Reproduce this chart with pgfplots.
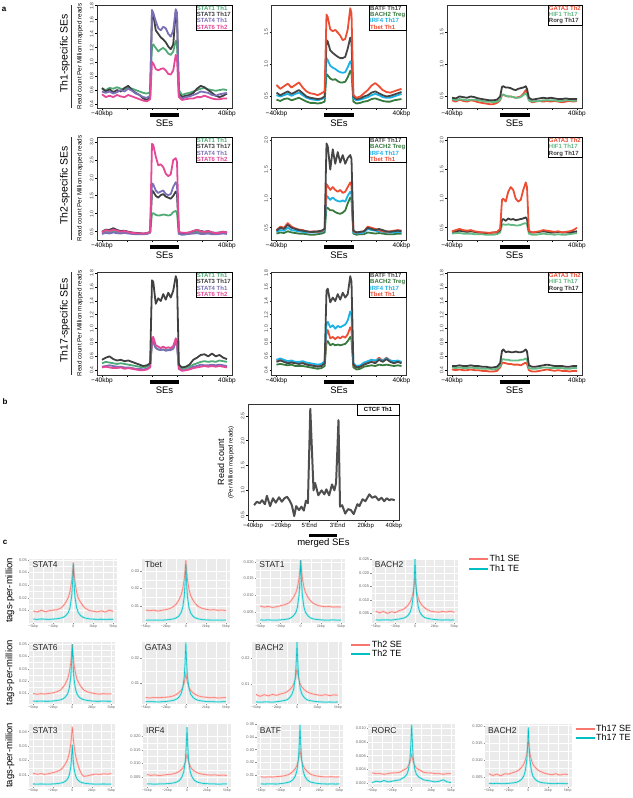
\documentclass[border=0pt]{standalone}
\usepackage{fontspec}
\setmainfont{Liberation Sans}
\usepackage{pgfplots}
\usepackage{pgfplotstable}
\pgfplotsset{compat=1.18}

\definecolor{cSa}{RGB}{80,170,120}
\definecolor{cSb}{RGB}{64,64,64}
\definecolor{cSc}{RGB}{122,112,182}
\definecolor{cSd}{RGB}{228,72,150}
\definecolor{cBATF}{RGB}{70,70,70}
\definecolor{cBACH}{RGB}{56,122,62}
\definecolor{cIRF}{RGB}{28,178,230}
\definecolor{cTBET}{RGB}{236,78,52}
\definecolor{cHIF}{RGB}{100,186,132}
\definecolor{cROR}{RGB}{60,60,60}
\definecolor{cSE}{HTML}{F8766D}
\definecolor{cTE}{HTML}{00BFC4}
\definecolor{cBg}{HTML}{EBEBEB}

% ---- panel a tables (x: -40kbp=0, SE from 40 to 60, 40kbp=100)
\pgfplotstableread{
x s1 s3 s4 s6
0 0.62 0.63 0.58 0.54
3 0.60 0.58 0.56 0.50
6 0.63 0.61 0.58 0.52
9 0.62 0.57 0.55 0.50
12 0.64 0.60 0.57 0.53
15 0.62 0.58 0.60 0.51
18 0.61 0.63 0.58 0.50
21 0.64 0.66 0.62 0.53
24 0.62 0.60 0.59 0.51
27 0.60 0.56 0.55 0.49
30 0.58 0.53 0.53 0.47
33 0.56 0.48 0.50 0.45
36 0.55 0.46 0.49 0.44
38.5 0.57 0.50 0.52 0.47
40 1.22 1.70 1.74 1.00
41 1.25 1.68 1.70 0.98
43 1.20 1.45 1.58 0.90
45 1.15 1.40 1.48 0.88
47 1.18 1.35 1.45 0.90
49 1.20 1.32 1.50 0.91
51 1.17 1.28 1.48 0.88
53 1.12 1.22 1.40 0.83
55 1.10 1.18 1.36 0.82
57 1.15 1.25 1.45 0.88
59 1.30 1.72 1.75 1.10
60 1.25 1.65 1.70 1.05
61.5 0.60 0.55 0.52 0.50
64 0.53 0.50 0.48 0.46
67 0.55 0.52 0.50 0.47
70 0.56 0.53 0.51 0.48
73 0.58 0.56 0.53 0.48
76 0.60 0.62 0.55 0.50
79 0.62 0.66 0.58 0.50
82 0.63 0.64 0.57 0.52
85 0.61 0.60 0.56 0.50
88 0.60 0.56 0.53 0.48
91 0.59 0.52 0.52 0.47
94 0.60 0.50 0.54 0.47
97 0.61 0.52 0.55 0.48
100 0.60 0.55 0.56 0.48
}\tAa

\pgfplotstableread{
x batf bach irf tbet
0 0.56 0.45 0.52 0.68
3 0.52 0.43 0.50 0.62
6 0.55 0.46 0.52 0.66
9 0.58 0.47 0.54 0.70
12 0.54 0.44 0.51 0.64
15 0.57 0.46 0.54 0.68
18 0.60 0.48 0.56 0.72
21 0.55 0.45 0.52 0.64
24 0.50 0.42 0.48 0.58
27 0.48 0.40 0.46 0.55
30 0.47 0.40 0.45 0.54
33 0.46 0.39 0.44 0.52
36 0.47 0.40 0.46 0.55
38.5 0.50 0.42 0.48 0.58
40 1.38 0.85 1.10 1.78
41 1.36 0.83 1.07 1.74
43 1.22 0.78 0.98 1.55
45 1.18 0.76 0.95 1.52
47 1.15 0.77 0.93 1.54
49 1.12 0.74 0.90 1.50
51 1.10 0.72 0.88 1.45
53 1.10 0.72 0.87 1.38
55 1.12 0.73 0.88 1.40
57 1.25 0.80 0.96 1.55
59 1.42 0.90 1.05 1.88
60 1.35 0.86 1.00 1.80
61.5 0.50 0.42 0.47 0.52
64 0.46 0.39 0.44 0.48
67 0.47 0.40 0.45 0.50
70 0.50 0.42 0.47 0.55
73 0.52 0.43 0.49 0.60
76 0.56 0.46 0.52 0.67
79 0.58 0.47 0.54 0.71
82 0.55 0.45 0.52 0.66
85 0.52 0.43 0.49 0.60
88 0.50 0.42 0.48 0.57
91 0.51 0.42 0.48 0.56
94 0.53 0.44 0.50 0.58
97 0.55 0.45 0.52 0.60
100 0.57 0.46 0.54 0.62
}\tAb

\pgfplotstableread{
x gata hif ror
0 0.44 0.46 0.48
3 0.42 0.44 0.47
6 0.45 0.46 0.50
9 0.43 0.45 0.49
12 0.42 0.44 0.48
15 0.44 0.45 0.50
18 0.43 0.45 0.49
21 0.41 0.44 0.47
24 0.40 0.43 0.46
27 0.39 0.42 0.45
30 0.38 0.42 0.44
33 0.38 0.41 0.44
36 0.40 0.42 0.45
38.5 0.44 0.45 0.50
40 0.52 0.53 0.65
41 0.53 0.53 0.66
43 0.51 0.51 0.64
45 0.50 0.50 0.64
47 0.50 0.50 0.63
49 0.49 0.49 0.61
51 0.48 0.48 0.60
53 0.49 0.48 0.62
55 0.50 0.49 0.63
57 0.54 0.52 0.64
59 0.60 0.55 0.66
60 0.56 0.52 0.62
61.5 0.44 0.44 0.48
64 0.41 0.42 0.45
67 0.42 0.43 0.46
70 0.43 0.43 0.47
73 0.42 0.44 0.48
76 0.43 0.44 0.47
79 0.42 0.44 0.48
82 0.43 0.44 0.47
85 0.42 0.43 0.46
88 0.41 0.43 0.46
91 0.42 0.44 0.47
94 0.43 0.44 0.46
97 0.42 0.43 0.46
100 0.43 0.44 0.46
}\tAc

\pgfplotstableread{
x s1 s3 s4 s6
0 0.45 0.50 0.44 0.48
3 0.50 0.56 0.47 0.55
6 0.48 0.55 0.45 0.52
9 0.52 0.60 0.48 0.56
12 0.50 0.55 0.46 0.53
15 0.48 0.52 0.45 0.50
18 0.50 0.53 0.47 0.52
21 0.48 0.50 0.45 0.49
24 0.46 0.48 0.44 0.47
27 0.45 0.47 0.43 0.46
30 0.45 0.46 0.43 0.46
33 0.44 0.45 0.43 0.45
36 0.45 0.46 0.44 0.46
38.5 0.48 0.50 0.47 0.50
40 1.00 1.65 1.85 2.95
41 1.02 1.62 1.82 2.92
43 0.97 1.50 1.65 2.60
45 0.95 1.45 1.58 2.35
47 0.96 1.52 1.62 2.38
49 0.98 1.55 1.65 2.30
51 0.97 1.48 1.55 2.12
53 0.95 1.45 1.52 2.05
55 0.97 1.42 1.55 2.10
57 1.05 1.50 1.75 2.50
59 1.08 1.62 1.88 2.55
60 1.02 1.55 1.80 2.45
61.5 0.45 0.48 0.44 0.50
64 0.42 0.45 0.42 0.47
67 0.43 0.46 0.43 0.47
70 0.45 0.48 0.44 0.48
73 0.48 0.52 0.45 0.52
76 0.50 0.55 0.46 0.55
79 0.47 0.52 0.44 0.51
82 0.46 0.50 0.44 0.49
85 0.48 0.52 0.45 0.52
88 0.46 0.48 0.43 0.48
91 0.45 0.47 0.43 0.46
94 0.46 0.48 0.44 0.47
97 0.47 0.50 0.45 0.50
100 0.46 0.48 0.44 0.48
}\tBa

\pgfplotstableread{
x batf bach irf tbet
0 0.45 0.40 0.43 0.46
3 0.50 0.42 0.46 0.52
6 0.48 0.41 0.45 0.50
9 0.55 0.44 0.50 0.58
12 0.50 0.42 0.46 0.52
15 0.48 0.41 0.45 0.49
18 0.46 0.40 0.44 0.47
21 0.45 0.40 0.43 0.46
24 0.44 0.39 0.42 0.44
27 0.43 0.38 0.42 0.43
30 0.43 0.38 0.42 0.44
33 0.44 0.39 0.42 0.43
36 0.45 0.40 0.43 0.44
38.5 0.48 0.42 0.46 0.48
40 1.95 0.85 1.05 1.25
41 1.90 0.84 1.03 1.22
43 1.50 0.80 0.98 1.15
45 1.85 0.80 1.02 1.20
47 1.60 0.77 0.98 1.15
49 1.80 0.75 0.96 1.12
51 1.62 0.74 0.95 1.15
53 1.75 0.76 0.97 1.10
55 1.60 0.80 0.95 1.12
57 1.70 0.92 1.05 1.20
59 1.75 1.02 1.12 1.28
60 1.68 0.98 1.08 1.22
61.5 0.45 0.40 0.42 0.44
64 0.42 0.38 0.40 0.42
67 0.43 0.39 0.41 0.43
70 0.44 0.39 0.42 0.44
73 0.50 0.42 0.48 0.52
76 0.48 0.41 0.46 0.50
79 0.46 0.40 0.45 0.48
82 0.48 0.41 0.44 0.46
85 0.46 0.40 0.43 0.44
88 0.44 0.39 0.42 0.43
91 0.43 0.39 0.42 0.44
94 0.44 0.39 0.42 0.45
97 0.45 0.40 0.43 0.46
100 0.44 0.40 0.42 0.45
}\tBb

\pgfplotstableread{
x gata hif ror
0 0.44 0.40 0.43
3 0.46 0.41 0.44
6 0.48 0.41 0.45
9 0.46 0.40 0.44
12 0.45 0.40 0.43
15 0.46 0.40 0.44
18 0.44 0.39 0.43
21 0.43 0.39 0.42
24 0.42 0.39 0.42
27 0.42 0.38 0.41
30 0.41 0.38 0.41
33 0.42 0.38 0.42
36 0.43 0.39 0.42
38.5 0.48 0.42 0.46
40 0.98 0.55 0.64
41 1.00 0.56 0.65
43 0.95 0.55 0.62
45 1.12 0.56 0.66
47 1.20 0.55 0.64
49 1.15 0.55 0.65
51 1.00 0.54 0.63
53 0.95 0.54 0.64
55 0.98 0.55 0.65
57 1.15 0.57 0.66
59 1.28 0.58 0.68
60 1.20 0.56 0.65
61.5 0.45 0.40 0.44
64 0.42 0.38 0.42
67 0.43 0.38 0.42
70 0.44 0.39 0.43
73 0.46 0.40 0.44
76 0.45 0.39 0.43
79 0.44 0.39 0.42
82 0.43 0.38 0.42
85 0.44 0.39 0.43
88 0.42 0.38 0.42
91 0.43 0.38 0.42
94 0.44 0.39 0.42
97 0.46 0.40 0.43
100 0.50 0.41 0.44
}\tBc

\pgfplotstableread{
x s1 s3 s4 s6
0 0.50 0.55 0.45 0.44
3 0.52 0.58 0.46 0.45
6 0.51 0.60 0.47 0.44
9 0.50 0.56 0.46 0.43
12 0.49 0.54 0.45 0.43
15 0.50 0.55 0.45 0.44
18 0.49 0.53 0.44 0.42
21 0.48 0.54 0.44 0.43
24 0.47 0.52 0.43 0.42
27 0.46 0.50 0.42 0.41
30 0.45 0.48 0.42 0.40
33 0.44 0.46 0.41 0.40
36 0.45 0.47 0.42 0.41
38.5 0.48 0.50 0.45 0.44
40 0.78 1.70 0.80 0.86
41 0.80 1.68 0.82 0.88
43 0.72 1.36 0.72 0.76
45 0.70 1.44 0.70 0.74
47 0.69 1.40 0.69 0.72
49 0.70 1.50 0.70 0.74
51 0.69 1.42 0.68 0.72
53 0.70 1.52 0.69 0.73
55 0.70 1.45 0.69 0.72
57 0.72 1.55 0.71 0.75
59 0.82 1.76 0.80 0.86
60 0.78 1.70 0.76 0.82
61.5 0.45 0.48 0.42 0.42
64 0.42 0.44 0.40 0.39
67 0.43 0.45 0.40 0.40
70 0.45 0.48 0.42 0.41
73 0.48 0.55 0.45 0.43
76 0.50 0.58 0.46 0.44
79 0.52 0.62 0.48 0.45
82 0.53 0.63 0.47 0.46
85 0.52 0.60 0.47 0.45
88 0.53 0.64 0.48 0.46
91 0.52 0.60 0.47 0.45
94 0.54 0.62 0.48 0.46
97 0.53 0.58 0.47 0.45
100 0.52 0.56 0.46 0.44
}\tCa

\pgfplotstableread{
x batf bach irf tbet
0 0.52 0.48 0.55 0.54
3 0.54 0.49 0.57 0.56
6 0.52 0.48 0.55 0.53
9 0.50 0.47 0.53 0.52
12 0.51 0.48 0.54 0.53
15 0.50 0.46 0.52 0.51
18 0.49 0.46 0.52 0.50
21 0.50 0.46 0.53 0.51
24 0.48 0.45 0.51 0.49
27 0.47 0.44 0.50 0.48
30 0.46 0.43 0.49 0.47
33 0.45 0.42 0.48 0.46
36 0.46 0.43 0.49 0.47
38.5 0.50 0.46 0.53 0.51
40 1.55 0.80 1.08 0.95
41 1.58 0.82 1.10 0.98
43 1.38 0.76 1.02 0.86
45 1.45 0.78 1.05 0.88
47 1.40 0.76 1.00 0.85
49 1.50 0.77 1.04 0.88
51 1.42 0.76 1.02 0.86
53 1.52 0.77 1.04 0.89
55 1.45 0.78 1.06 0.87
57 1.50 0.82 1.12 0.92
59 1.76 0.88 1.25 1.02
60 1.68 0.84 1.20 0.98
61.5 0.48 0.44 0.50 0.47
64 0.44 0.41 0.46 0.44
67 0.45 0.42 0.47 0.45
70 0.48 0.45 0.51 0.49
73 0.50 0.46 0.53 0.52
76 0.52 0.47 0.55 0.55
79 0.50 0.46 0.54 0.53
82 0.55 0.48 0.56 0.58
85 0.52 0.47 0.54 0.54
88 0.56 0.48 0.57 0.58
91 0.52 0.47 0.54 0.54
94 0.50 0.46 0.53 0.52
97 0.52 0.47 0.54 0.53
100 0.50 0.46 0.52 0.51
}\tCb

\pgfplotstableread{
x gata hif ror
0 0.41 0.44 0.46
3 0.40 0.43 0.46
6 0.41 0.44 0.47
9 0.40 0.43 0.46
12 0.40 0.43 0.46
15 0.41 0.44 0.47
18 0.40 0.43 0.46
21 0.40 0.43 0.46
24 0.39 0.42 0.45
27 0.39 0.42 0.45
30 0.38 0.42 0.44
33 0.38 0.41 0.44
36 0.39 0.42 0.45
38.5 0.44 0.46 0.50
40 0.50 0.55 0.68
41 0.51 0.56 0.70
43 0.50 0.55 0.66
45 0.49 0.55 0.67
47 0.49 0.54 0.66
49 0.48 0.54 0.66
51 0.48 0.54 0.67
53 0.48 0.54 0.66
55 0.47 0.55 0.66
57 0.49 0.55 0.67
59 0.51 0.57 0.70
60 0.49 0.55 0.67
61.5 0.40 0.43 0.47
64 0.38 0.42 0.45
67 0.38 0.42 0.45
70 0.39 0.43 0.46
73 0.40 0.44 0.47
76 0.41 0.44 0.48
79 0.40 0.43 0.47
82 0.39 0.43 0.46
85 0.40 0.43 0.46
88 0.39 0.43 0.46
91 0.39 0.42 0.45
94 0.38 0.42 0.45
97 0.39 0.43 0.46
100 0.39 0.43 0.46
}\tCc

% ---- panel c tables (kbp from centre)
\pgfplotstableread{
x a4s a4t tbs tbt a1s a1t b2s b2t
-5 0.0095 0.0032 0.0078 0.0021 0.0068 0.0027 0.0058 0.0026
-4.5 0.0088 0.0030 0.0074 0.0020 0.0065 0.0026 0.0052 0.0025
-4 0.0102 0.0033 0.0077 0.0021 0.0067 0.0027 0.0057 0.0026
-3.5 0.0090 0.0031 0.0072 0.0021 0.0064 0.0026 0.0050 0.0026
-3 0.0098 0.0030 0.0076 0.0020 0.0066 0.0026 0.0056 0.0025
-2.5 0.0103 0.0032 0.0080 0.0022 0.0069 0.0027 0.0053 0.0027
-2 0.0106 0.0035 0.0086 0.0024 0.0072 0.0028 0.0060 0.0029
-1.5 0.0121 0.0041 0.0098 0.0028 0.0077 0.0030 0.0065 0.0032
-1.2 0.0141 0.0048 0.0112 0.0033 0.0084 0.0033 0.0071 0.0035
-0.9 0.0168 0.0061 0.0132 0.0042 0.0094 0.0039 0.0080 0.0042
-0.6 0.0207 0.0087 0.0161 0.0062 0.0108 0.0049 0.0093 0.0055
-0.4 0.0254 0.0127 0.0195 0.0090 0.0124 0.0065 0.0108 0.0076
-0.2 0.0332 0.0215 0.0252 0.0154 0.0152 0.0101 0.0133 0.0121
-0.1 0.0402 0.0316 0.0303 0.0228 0.0177 0.0142 0.0155 0.0173
0 0.0480 0.0470 0.0360 0.0340 0.0205 0.0205 0.0180 0.0252
0.1 0.0400 0.0310 0.0300 0.0226 0.0177 0.0142 0.0155 0.0173
0.2 0.0330 0.0210 0.0250 0.0152 0.0152 0.0101 0.0133 0.0121
0.4 0.0250 0.0125 0.0193 0.0089 0.0124 0.0065 0.0108 0.0076
0.6 0.0200 0.0086 0.0160 0.0061 0.0108 0.0049 0.0093 0.0055
0.9 0.0165 0.0060 0.0133 0.0042 0.0094 0.0039 0.0080 0.0042
1.2 0.0138 0.0047 0.0113 0.0033 0.0084 0.0033 0.0071 0.0035
1.5 0.0118 0.0040 0.0099 0.0028 0.0077 0.0030 0.0065 0.0032
2 0.0100 0.0034 0.0088 0.0024 0.0071 0.0028 0.0058 0.0029
2.5 0.0094 0.0031 0.0082 0.0022 0.0068 0.0027 0.0056 0.0027
3 0.0089 0.0030 0.0078 0.0021 0.0066 0.0026 0.0054 0.0026
3.5 0.0097 0.0031 0.0080 0.0020 0.0067 0.0026 0.0057 0.0025
4 0.0088 0.0029 0.0076 0.0021 0.0065 0.0027 0.0055 0.0026
4.5 0.0102 0.0031 0.0078 0.0020 0.0066 0.0026 0.0058 0.0025
5 0.0093 0.0030 0.0075 0.0021 0.0065 0.0026 0.0054 0.0026
}\tDa

\pgfplotstableread{
x a6s a6t g3s g3t b2s b2t
-5 0.0098 0.0036 0.0043 0.0026 0.0058 0.0028
-4.5 0.0092 0.0035 0.0041 0.0026 0.0050 0.0027
-4 0.0097 0.0036 0.0043 0.0026 0.0057 0.0028
-3.5 0.0094 0.0035 0.0042 0.0025 0.0052 0.0028
-3 0.0099 0.0035 0.0043 0.0026 0.0058 0.0027
-2.5 0.0103 0.0037 0.0044 0.0027 0.0054 0.0029
-2 0.0111 0.0041 0.0046 0.0029 0.0060 0.0031
-1.5 0.0127 0.0047 0.0050 0.0032 0.0064 0.0034
-1.2 0.0148 0.0054 0.0055 0.0036 0.0069 0.0037
-0.9 0.0176 0.0068 0.0062 0.0043 0.0076 0.0045
-0.6 0.0217 0.0095 0.0071 0.0057 0.0087 0.0059
-0.4 0.0265 0.0137 0.0083 0.0079 0.0099 0.0080
-0.2 0.0346 0.0230 0.0103 0.0126 0.0120 0.0128
-0.1 0.0419 0.0337 0.0120 0.0181 0.0139 0.0182
0 0.0500 0.0500 0.0140 0.0265 0.0160 0.0265
0.1 0.0420 0.0335 0.0120 0.0181 0.0139 0.0182
0.2 0.0345 0.0228 0.0103 0.0126 0.0120 0.0128
0.4 0.0265 0.0136 0.0083 0.0079 0.0099 0.0080
0.6 0.0215 0.0094 0.0071 0.0057 0.0087 0.0059
0.9 0.0175 0.0067 0.0062 0.0043 0.0076 0.0045
1.2 0.0147 0.0054 0.0055 0.0036 0.0069 0.0037
1.5 0.0126 0.0047 0.0050 0.0032 0.0064 0.0034
2 0.0110 0.0041 0.0046 0.0029 0.0059 0.0031
2.5 0.0102 0.0037 0.0044 0.0027 0.0056 0.0029
3 0.0096 0.0035 0.0042 0.0026 0.0054 0.0028
3.5 0.0093 0.0035 0.0043 0.0026 0.0057 0.0027
4 0.0097 0.0036 0.0041 0.0025 0.0053 0.0028
4.5 0.0094 0.0035 0.0042 0.0026 0.0056 0.0027
5 0.0096 0.0035 0.0043 0.0026 0.0055 0.0028
}\tDb

\pgfplotstableread{
x a3s a3t i4s i4t bfs bft rcs rct b2s b2t
-5 0.0112 0.0038 0.0060 0.0026 0.0087 0.0030 0.0035 0.0021 0.0059 0.0031
-4.5 0.0105 0.0037 0.0057 0.0026 0.0083 0.0029 0.0034 0.0023 0.0054 0.0030
-4 0.0110 0.0038 0.0059 0.0025 0.0086 0.0030 0.0034 0.0022 0.0058 0.0031
-3.5 0.0104 0.0037 0.0056 0.0026 0.0084 0.0030 0.0033 0.0024 0.0053 0.0030
-3 0.0109 0.0037 0.0058 0.0026 0.0088 0.0029 0.0034 0.0022 0.0059 0.0030
-2.5 0.0116 0.0038 0.0060 0.0027 0.0089 0.0032 0.0035 0.0023 0.0058 0.0031
-2 0.0123 0.0040 0.0061 0.0028 0.0094 0.0036 0.0035 0.0024 0.0062 0.0032
-1.5 0.0136 0.0044 0.0064 0.0031 0.0102 0.0042 0.0036 0.0025 0.0066 0.0034
-1.2 0.0152 0.0048 0.0068 0.0034 0.0113 0.0049 0.0038 0.0027 0.0070 0.0037
-0.9 0.0175 0.0056 0.0073 0.0040 0.0128 0.0063 0.0040 0.0029 0.0077 0.0042
-0.6 0.0208 0.0073 0.0081 0.0053 0.0150 0.0091 0.0042 0.0033 0.0086 0.0051
-0.4 0.0247 0.0097 0.0090 0.0071 0.0175 0.0133 0.0046 0.0040 0.0098 0.0066
-0.2 0.0312 0.0152 0.0106 0.0113 0.0218 0.0227 0.0051 0.0057 0.0118 0.0099
-0.1 0.0370 0.0214 0.0120 0.0160 0.0257 0.0336 0.0056 0.0076 0.0135 0.0137
0 0.0435 0.0310 0.0135 0.0232 0.0300 0.0495 0.0062 0.0105 0.0155 0.0195
0.1 0.0370 0.0214 0.0120 0.0160 0.0257 0.0336 0.0056 0.0076 0.0135 0.0137
0.2 0.0310 0.0152 0.0106 0.0113 0.0218 0.0227 0.0051 0.0057 0.0118 0.0099
0.4 0.0240 0.0097 0.0090 0.0071 0.0175 0.0133 0.0046 0.0040 0.0098 0.0066
0.6 0.0190 0.0073 0.0081 0.0053 0.0150 0.0091 0.0042 0.0033 0.0086 0.0051
0.9 0.0140 0.0056 0.0073 0.0040 0.0128 0.0063 0.0040 0.0029 0.0077 0.0042
1.2 0.0105 0.0048 0.0068 0.0034 0.0113 0.0049 0.0038 0.0027 0.0070 0.0037
1.5 0.0090 0.0044 0.0064 0.0031 0.0102 0.0042 0.0036 0.0025 0.0066 0.0034
2 0.0095 0.0040 0.0061 0.0028 0.0094 0.0036 0.0035 0.0024 0.0061 0.0032
2.5 0.0102 0.0038 0.0059 0.0027 0.0089 0.0032 0.0035 0.0023 0.0058 0.0031
3 0.0106 0.0037 0.0058 0.0026 0.0086 0.0030 0.0034 0.0022 0.0056 0.0030
3.5 0.0104 0.0037 0.0059 0.0026 0.0085 0.0029 0.0034 0.0023 0.0059 0.0030
4 0.0108 0.0038 0.0057 0.0025 0.0087 0.0030 0.0033 0.0025 0.0055 0.0031
4.5 0.0106 0.0037 0.0058 0.0026 0.0084 0.0029 0.0034 0.0022 0.0058 0.0030
5 0.0110 0.0037 0.0057 0.0026 0.0086 0.0030 0.0034 0.0021 0.0057 0.0030
}\tDc

\pgfplotsset{
  pa/.style={scale only axis, width=135pt, height=103pt, anchor=north west,
    xmin=-4, xmax=104, clip=false, scaled ticks=false,
    xtick={0,20,40,60,80,100}, xticklabels={−40kbp,,,,,40kbp},
    tick pos=left, tick align=outside, major tick length=2pt,
    tick style={black, line width=0.8pt},
    axis line style={black!80, line width=0.6pt},
    xticklabel style={font=\fontsize{6.5}{7}\selectfont, inner sep=1pt},
    yticklabel style={font=\fontsize{5}{5}\selectfont, rotate=90, anchor=south, inner sep=1.5pt, text=black!75},
    every axis plot/.append style={line width=1.8pt, line join=round},
  },
  pc/.style={scale only axis, anchor=north west, xmin=-5.5, xmax=5.5, scaled ticks=false,
    xtick={-5,-2.5,0,2.5,5}, xticklabels={−5kbp,−2kbp,0,2kbp,5kbp},
    minor x tick num=1, minor y tick num=1, grid=both,
    major grid style={white, line width=0.5pt}, minor grid style={white, line width=0.25pt},
    axis background/.style={fill=cBg}, axis line style={draw=none},
    tick pos=left, tick align=outside, major tick length=1.5pt, minor tick length=0pt,
    tick style={black!45, line width=0.35pt},
    xticklabel style={font=\fontsize{3.5}{4}\selectfont, text=black!60, inner sep=0.8pt},
    yticklabel style={font=\fontsize{4}{4}\selectfont, text=black!60, inner sep=0.8pt},
    legend cell align=left,
    legend style={draw=none, fill=none, font=\fontsize{9}{9}\selectfont, inner sep=0pt,
      nodes={inner sep=0.6pt}, anchor=north west},
    legend image code/.code={\draw[#1] (0pt,0pt) -- (19pt,0pt);},
    legend image post style={line width=2pt},
  },
}

\newcommand\lgd[1]{\node[draw=black, line width=0.5pt, fill=white, anchor=north east,
  inner sep=1pt, align=left, font=\bfseries\fontsize{6}{6.2}\selectfont] at (rel axis cs:1,1) {#1};}
\newcommand\sebar{\draw[line width=3.3pt] ([yshift=-7pt]rel axis cs:0.3889,0) -- ([yshift=-7pt]rel axis cs:0.6111,0);
  \node[font=\fontsize{9.5}{10}\selectfont] at ([yshift=-15.5pt]rel axis cs:0.5,0) {SEs};}
\newcommand\cpl[3]{%
  \addplot[forget plot, cSE!35, line width=2pt] table[x=x,y=#2]{#1};
  \addplot[forget plot, cTE!35, line width=2pt] table[x=x,y=#3]{#1};
  \addplot[cSE, line width=0.55pt] table[x=x,y=#2]{#1};
  \addplot[cTE, line width=0.55pt] table[x=x,y=#3]{#1};}
\newcommand\ttl[1]{\node[anchor=north west, inner sep=0pt, font=\fontsize{8.5}{9}\selectfont, text=black!85] at ([xshift=3pt,yshift=-3pt]rel axis cs:0,1) {#1};}

\begin{document}
\begin{tikzpicture}[x=1pt,y=1pt]
\path[use as bounding box] (0,0) rectangle (632,-798);

% ================= panel a =================
\node[font=\bfseries\fontsize{8}{8}\selectfont] at (4,-9) {a};
\foreach \yc/\lab in {53.5/Th1-specific SEs, 185.5/Th2-specific SEs, 320.5/Th17-specific SEs}{
  \node[rotate=90, font=\fontsize{10.5}{11}\selectfont] at (65,-\yc) {\lab};
}
\foreach \yt in {5,137,272}{
  \draw[line width=0.6pt, black!80] (71,-\yt) -- (71,-\yt-103);
  \node[rotate=90, font=\fontsize{6.3}{7}\selectfont] at (80,-\yt-51.5) {Read count Per Million mapped reads};
}

% row 1
\begin{axis}[pa, at={(97pt,-5pt)}, ymin=0.345, ymax=1.81,
  ytick={0.4,0.6,0.8,1.0,1.2,1.4,1.6,1.8}, yticklabels={0.4,0.6,0.8,1.0,1.2,1.4,1.6,1.8}]
\addplot[cSa] table[x=x,y=s1]{\tAa};
\addplot[cSb] table[x=x,y=s3]{\tAa};
\addplot[cSc] table[x=x,y=s4]{\tAa};
\addplot[cSd] table[x=x,y=s6]{\tAa};
\lgd{\textcolor{cSa}{STAT1 Th1}\\\textcolor{cSb}{STAT3 Th17}\\\textcolor{cSc}{STAT4 Th1}\\\textcolor{cSd}{STAT6 Th2}}
\sebar
\end{axis}
\begin{axis}[pa, at={(271.5pt,-5pt)}, ymin=0.32, ymax=1.93,
  ytick={0.5,1.0,1.5}, yticklabels={0.5,1.0,1.5}]
\addplot[cBACH] table[x=x,y=bach]{\tAb};
\addplot[cIRF] table[x=x,y=irf]{\tAb};
\addplot[cBATF] table[x=x,y=batf]{\tAb};
\addplot[cTBET] table[x=x,y=tbet]{\tAb};
\lgd{\textcolor{cBATF}{BATF Th17}\\\textcolor{cBACH}{BACH2 Treg}\\\textcolor{cIRF}{IRF4 Th17}\\\textcolor{cTBET}{Tbet Th1}}
\sebar
\end{axis}
\begin{axis}[pa, at={(447pt,-5pt)}, ymin=0.32, ymax=1.93,
  ytick={0.5,1.0,1.5}, yticklabels={0.5,1.0,1.5}]
\addplot[cTBET] table[x=x,y=gata]{\tAc};
\addplot[cHIF] table[x=x,y=hif]{\tAc};
\addplot[cROR] table[x=x,y=ror]{\tAc};
\lgd{\textcolor{cTBET}{GATA3 Th2}\\\textcolor{cHIF}{HIF1 Th17}\\\textcolor{cROR}{Rorg Th17}}
\sebar
\end{axis}

% row 2
\begin{axis}[pa, at={(97pt,-137pt)}, ymin=0.27, ymax=3.14,
  ytick={0.5,1.0,1.5,2.0,2.5,3.0}, yticklabels={0.5,1.0,1.5,2.0,2.5,3.0}]
\addplot[cSa] table[x=x,y=s1]{\tBa};
\addplot[cSb] table[x=x,y=s3]{\tBa};
\addplot[cSc] table[x=x,y=s4]{\tBa};
\addplot[cSd] table[x=x,y=s6]{\tBa};
\lgd{\textcolor{cSa}{STAT1 Th1}\\\textcolor{cSb}{STAT3 Th17}\\\textcolor{cSc}{STAT4 Th1}\\\textcolor{cSd}{STAT6 Th2}}
\sebar
\end{axis}
\begin{axis}[pa, at={(271.5pt,-137pt)}, ymin=0.29, ymax=2.06,
  ytick={0.5,1.0,1.5,2.0}, yticklabels={0.5,1.0,1.5,2.0}]
\addplot[cBACH] table[x=x,y=bach]{\tBb};
\addplot[cIRF] table[x=x,y=irf]{\tBb};
\addplot[cTBET] table[x=x,y=tbet]{\tBb};
\addplot[cBATF] table[x=x,y=batf]{\tBb};
\lgd{\textcolor{cBATF}{BATF Th17}\\\textcolor{cBACH}{BACH2 Treg}\\\textcolor{cIRF}{IRF4 Th17}\\\textcolor{cTBET}{Tbet Th1}}
\sebar
\end{axis}
\begin{axis}[pa, at={(447pt,-137pt)}, ymin=0.29, ymax=2.06,
  ytick={0.5,1.0,1.5,2.0}, yticklabels={0.5,1.0,1.5,2.0}]
\addplot[cHIF] table[x=x,y=hif]{\tBc};
\addplot[cROR] table[x=x,y=ror]{\tBc};
\addplot[cTBET] table[x=x,y=gata]{\tBc};
\lgd{\textcolor{cTBET}{GATA3 Th2}\\\textcolor{cHIF}{HIF1 Th17}\\\textcolor{cROR}{Rorg Th17}}
\sebar
\end{axis}

% row 3
\begin{axis}[pa, at={(97pt,-272pt)}, ymin=0.33, ymax=1.82,
  ytick={0.4,0.6,0.8,1.0,1.2,1.4,1.6,1.8}, yticklabels={0.4,0.6,0.8,1.0,1.2,1.4,1.6,1.8}]
\addplot[cSa] table[x=x,y=s1]{\tCa};
\addplot[cSc] table[x=x,y=s4]{\tCa};
\addplot[cSd] table[x=x,y=s6]{\tCa};
\addplot[cSb] table[x=x,y=s3]{\tCa};
\lgd{\textcolor{cSa}{STAT1 Th1}\\\textcolor{cSb}{STAT3 Th17}\\\textcolor{cSc}{STAT4 Th1}\\\textcolor{cSd}{STAT6 Th2}}
\sebar
\end{axis}
\begin{axis}[pa, at={(271.5pt,-272pt)}, ymin=0.33, ymax=1.82,
  ytick={0.4,0.6,0.8,1.0,1.2,1.4,1.6,1.8}, yticklabels={0.4,0.6,0.8,1.0,1.2,1.4,1.6,1.8}]
\addplot[cBACH] table[x=x,y=bach]{\tCb};
\addplot[cTBET] table[x=x,y=tbet]{\tCb};
\addplot[cIRF] table[x=x,y=irf]{\tCb};
\addplot[cBATF] table[x=x,y=batf]{\tCb};
\lgd{\textcolor{cBATF}{BATF Th17}\\\textcolor{cBACH}{BACH2 Treg}\\\textcolor{cIRF}{IRF4 Th17}\\\textcolor{cTBET}{Tbet Th1}}
\sebar
\end{axis}
\begin{axis}[pa, at={(447pt,-272pt)}, ymin=0.33, ymax=1.82,
  ytick={0.4,0.6,0.8,1.0,1.2,1.4,1.6,1.8}, yticklabels={0.4,0.6,0.8,1.0,1.2,1.4,1.6,1.8}]
\addplot[cTBET] table[x=x,y=gata]{\tCc};
\addplot[cHIF] table[x=x,y=hif]{\tCc};
\addplot[cROR] table[x=x,y=ror]{\tCc};
\lgd{\textcolor{cTBET}{GATA3 Th2}\\\textcolor{cHIF}{HIF1 Th17}\\\textcolor{cROR}{Rorg Th17}}
\sebar
\end{axis}

% ================= panel b =================
\node[font=\bfseries\fontsize{8}{8}\selectfont] at (5,-402) {b};
\node[rotate=90, font=\fontsize{9}{9}\selectfont] at (221,-462) {Read count};
\node[rotate=90, font=\fontsize{6}{6}\selectfont] at (231,-462) {(Per Million mapped reads)};
\begin{axis}[scale only axis, width=151.5pt, height=115.7pt, at={(248pt,-404.3pt)}, anchor=north west,
  xmin=-3.5, xmax=104, ymin=0.4, ymax=2.74, clip=false, scaled ticks=false,
  xtick={0,20,40,60,80,100}, xticklabels={−40kbp,−20kbp,5'End,3'End,20kbp,40kbp},
  ytick={0.5,1.0,1.5,2.0,2.5}, yticklabels={0.5,1.0,1.5,2.0,2.5},
  tick pos=left, tick align=outside, major tick length=2pt,
  tick style={black, line width=0.8pt}, axis line style={black!80, line width=0.6pt},
  xticklabel style={font=\fontsize{6}{6}\selectfont, inner sep=1pt},
  yticklabel style={font=\fontsize{5}{5}\selectfont, rotate=90, anchor=south, inner sep=1.5pt, text=black!75}]
\addplot[color={rgb,255:red,78;green,78;blue,78}, line width=2pt, line join=round] coordinates {
(0.8,0.70)(2.8,0.77)(4.8,0.74)(6.5,0.80)(8.5,0.72)(9.9,0.89)(12.2,0.68)(14.2,0.84)
(16.2,0.75)(18.5,0.86)(20.5,0.77)(22.4,0.84)(24.2,0.87)(25.9,0.80)(27.6,0.70)(29.3,0.48)
(30.7,0.68)(32.7,0.60)(34.4,0.67)(36.1,0.59)(37.6,0.79)(39.0,0.74)(40.7,2.65)(43.0,1.00)
(44.1,1.15)(46.4,0.90)(48.7,1.00)(50.7,0.92)(52.1,1.02)(54.1,0.90)(56.1,1.12)(57.8,1.00)
(59.0,1.15)(60.7,2.42)(61.8,0.67)(63.3,0.70)(65.5,0.53)(67.5,0.62)(69.5,0.60)(71.5,0.52)
(74.1,0.72)(75.5,0.68)(77.8,0.82)(79.8,0.78)(82.6,0.92)(84.6,0.85)(86.9,0.88)(89.2,0.80)
(91.2,0.85)(93.2,0.78)(94.9,0.84)(96.9,0.80)(98.3,0.82)(100.6,0.80)};
\node[draw=black, line width=0.5pt, fill=white, anchor=north east, inner xsep=7pt, inner ysep=3pt,
  font=\bfseries\fontsize{6}{6}\selectfont] at (rel axis cs:1,1) {CTCF Th1};
\draw[line width=3pt] ([yshift=-15pt]axis cs:40,0.4) -- ([yshift=-15pt]axis cs:60,0.4);
\node[font=\fontsize{9.5}{10}\selectfont] at ([yshift=-23.5pt]axis cs:50,0.4) {merged SEs};
\end{axis}

% ================= panel c =================
\node[font=\bfseries\fontsize{8}{8}\selectfont] at (5,-542) {c};
\foreach \yc in {590.5,672.7,755.3}{
  \node[rotate=90, font=\fontsize{9.5}{10}\selectfont] at (10,-\yc) {tags-per-million};
}
% row 1
\begin{axis}[pc, at={(29.3pt,-558.5pt)}, width=88pt, height=64pt, ymin=0.0005, ymax=0.051,
  ytick={0.01,0.02,0.03,0.04,0.05}, yticklabels={0.01,0.02,0.03,0.04,0.05}]
\cpl{\tDa}{a4s}{a4t}\ttl{STAT4}
\end{axis}
\begin{axis}[pc, at={(141.7pt,-558.5pt)}, width=88.3pt, height=64pt, ymin=0.0007, ymax=0.037,
  ytick={0.01,0.02,0.03}, yticklabels={0.01,0.02,0.03}]
\cpl{\tDa}{tbs}{tbt}\ttl{Tbet}
\end{axis}
\begin{axis}[pc, at={(256.2pt,-558.5pt)}, width=89pt, height=64pt, ymin=0.0019, ymax=0.021,
  ytick={0.005,0.010,0.015,0.020}, yticklabels={0.005,0.010,0.015,0.020}]
\cpl{\tDa}{a1s}{a1t}\ttl{STAT1}
\end{axis}
\begin{axis}[pc, at={(371.7pt,-558.5pt)}, width=86.6pt, height=64pt, ymin=0.0016, ymax=0.0254,
  ytick={0.005,0.010,0.015,0.020,0.025}, yticklabels={0.005,0.010,0.015,0.020,0.025},
  legend entries={Th1 SE,Th1 TE}, legend style={at={(rel axis cs:1.11,1.06)}}]
\cpl{\tDa}{b2s}{b2t}\ttl{BACH2}
\end{axis}
% row 2
\begin{axis}[pc, at={(29.3pt,-641.7pt)}, width=86pt, height=62pt, ymin=0.0015, ymax=0.052,
  ytick={0.01,0.02,0.03,0.04,0.05}, yticklabels={0.01,0.02,0.03,0.04,0.05}]
\cpl{\tDb}{a6s}{a6t}\ttl{STAT6}
\end{axis}
\begin{axis}[pc, at={(141.7pt,-641.7pt)}, width=88.3pt, height=62pt, ymin=0.0018, ymax=0.0268,
  ytick={0.01,0.02}, yticklabels={0.01,0.02}]
\cpl{\tDb}{g3s}{g3t}\ttl{GATA3}
\end{axis}
\begin{axis}[pc, at={(252pt,-641.7pt)}, width=90pt, height=62pt, ymin=0.0021, ymax=0.0267,
  ytick={0.01,0.02}, yticklabels={0.01,0.02},
  legend entries={Th2 SE,Th2 TE}, legend style={at={(rel axis cs:1.09,1.03)}}]
\cpl{\tDb}{b2s}{b2t}\ttl{BACH2}
\end{axis}
% row 3
\begin{axis}[pc, at={(29.3pt,-724pt)}, width=86pt, height=62.7pt, ymin=0.0019, ymax=0.0453,
  ytick={0.01,0.02,0.03,0.04}, yticklabels={0.01,0.02,0.03,0.04}]
\cpl{\tDc}{a3s}{a3t}\ttl{STAT3}
\end{axis}
\begin{axis}[pc, at={(143pt,-724pt)}, width=88pt, height=62.7pt, ymin=0.0016, ymax=0.0243,
  ytick={0.005,0.010,0.015,0.020}, yticklabels={0.005,0.010,0.015,0.020}]
\cpl{\tDc}{i4s}{i4t}\ttl{IRF4}
\end{axis}
\begin{axis}[pc, at={(256.7pt,-724pt)}, width=86.6pt, height=62.7pt, ymin=0.0008, ymax=0.0502,
  ytick={0.01,0.02,0.03,0.04,0.05}, yticklabels={0.01,0.02,0.03,0.04,0.05}]
\cpl{\tDc}{bfs}{bft}\ttl{BATF}
\end{axis}
\begin{axis}[pc, at={(368.3pt,-724pt)}, width=86.7pt, height=62.7pt, ymin=0.0015, ymax=0.0106,
  ytick={0.002,0.004,0.006,0.008,0.010}, yticklabels={0.002,0.004,0.006,0.008,0.010}]
\cpl{\tDc}{rcs}{rct}\ttl{RORC}
\end{axis}
\begin{axis}[pc, at={(485pt,-724pt)}, width=86.7pt, height=62.7pt, ymin=0.0021, ymax=0.0205,
  ytick={0.005,0.010,0.015,0.020}, yticklabels={0.005,0.010,0.015,0.020},
  legend entries={Th17 SE,Th17 TE}, legend style={at={(rel axis cs:1.03,1.0)}}]
\cpl{\tDc}{b2s}{b2t}\ttl{BACH2}
\end{axis}
\end{tikzpicture}
\end{document}
